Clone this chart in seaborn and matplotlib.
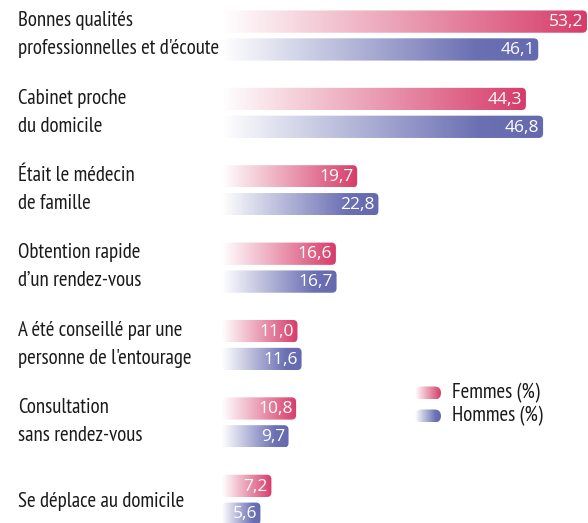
import numpy as np
import pandas as pd
import seaborn as sns
import matplotlib
matplotlib.use("Agg")
import matplotlib.pyplot as plt
from matplotlib.patches import FancyBboxPatch
from matplotlib.colors import LinearSegmentedColormap
from matplotlib.transforms import blended_transform_factory

categories = [
    "Bonnes qualités\nprofessionnelles et d'écoute",
    "Cabinet proche\ndu domicile",
    "Était le médecin\nde famille",
    "Obtention rapide\nd’un rendez-vous",
    "A été conseillé par une\npersonne de l'entourage",
    "Consultation\nsans rendez-vous",
    "Se déplace au domicile",
]
femmes = [53.2, 44.3, 19.7, 16.6, 11.0, 10.8, 7.2]
hommes = [46.1, 46.8, 22.8, 16.7, 11.6, 9.7, 5.6]
series = ["Femmes (%)", "Hommes (%)"]

pink = "#D63C69"
blue = "#6569AF"
cmaps = {
    series[0]: LinearSegmentedColormap.from_list("p", [(0, "#FFFFFF"), (1, pink)]),
    series[1]: LinearSegmentedColormap.from_list("b", [(0, "#FFFFFF"), (0.8, "#6B70B3"), (1, blue)]),
}

df = pd.DataFrame({
    "categorie": categories * 2,
    "sexe": [series[0]] * len(categories) + [series[1]] * len(categories),
    "valeur": femmes + hommes,
})

W, H = 588, 523
fig = plt.figure(figsize=(W / 100, H / 100), dpi=100)
x0 = 222 / W
ax = fig.add_axes([x0, 0, 1 - x0, 1])
sns.barplot(data=df, y="categorie", x="valeur", hue="sexe", orient="h",
            width=0.72, gap=0.2, errorbar=None, legend=False, ax=ax,
            palette=[pink, blue])
xmax = 53.35
ax.set_xlim(0, xmax)
ax.set_ylim(6.30, -0.459)
ax.axis("off")

px_per_x = (W - 222) / xmax
px_per_y = H / (6.30 + 0.459)
rad_px = 4.5
rs = rad_px / px_per_x
aspect = px_per_x / px_per_y

grad = np.linspace(0, 1, 256).reshape(1, -1)
num_kw = dict(family=["Open Sans", "Liberation Sans", "DejaVu Sans"], fontsize=12.5, color="white")
lab_kw = dict(family=["PT Sans Narrow", "DejaVu Sans"], fontsize=15, color="#1a1a1a")

for name, cont in zip(series, ax.containers):
    for bar in cont:
        bx, by, bw, bh = bar.get_x(), bar.get_y(), bar.get_width(), bar.get_height()
        bar.set_visible(False)
        patch = FancyBboxPatch((bx, by), bw, bh,
                               boxstyle=f"round,pad=0,rounding_size={rs}",
                               mutation_aspect=aspect, facecolor="none",
                               edgecolor="none")
        ax.add_patch(patch)
        im = ax.imshow(grad, cmap=cmaps[name], aspect="auto",
                       extent=[bx, bx + bw, by + bh, by], interpolation="bilinear")
        im.set_clip_path(patch)
        ax.text(bx + bw - 3.5 / px_per_x, by + bh / 2 + 0.01, f"{bw:.1f}".replace(".", ","),
                ha="right", va="center", **num_kw)

ax.set_xlim(0, xmax)
ax.set_ylim(6.30, -0.459)

# category labels
tr = blended_transform_factory(fig.transFigure, ax.transData)
off = 0.18
for i, lab in enumerate(categories):
    lines = lab.split("\n")
    if len(lines) == 2:
        ax.text(18 / W, i - off - 0.01, lines[0], transform=tr, ha="left", va="center", **lab_kw)
        ax.text(18 / W, i + off - 0.01, lines[1], transform=tr, ha="left", va="center", **lab_kw)
    else:
        ax.text(18 / W, i + 0.02, lines[0], transform=tr, ha="left", va="center", **lab_kw)

# legend
lax = fig.add_axes([0, 0, 1, 1], facecolor="none")
lax.set_xlim(0, W)
lax.set_ylim(H, 0)
lax.axis("off")
for name, yc in zip(series, [393, 416]):
    lx, lw, lh = 415, 26, 13
    p = FancyBboxPatch((lx, yc - lh / 2), lw, lh, boxstyle="round,pad=0,rounding_size=6.5",
                       facecolor="none", edgecolor="none")
    lax.add_patch(p)
    im = lax.imshow(grad, cmap=cmaps[name], aspect="auto",
                    extent=[lx, lx + lw, yc + lh / 2, yc - lh / 2])
    im.set_clip_path(p)
    lax.text(452, yc, name, ha="left", va="center", **lab_kw)
lax.set_xlim(0, W)
lax.set_ylim(H, 0)

fig.savefig("out.png", dpi=100)
